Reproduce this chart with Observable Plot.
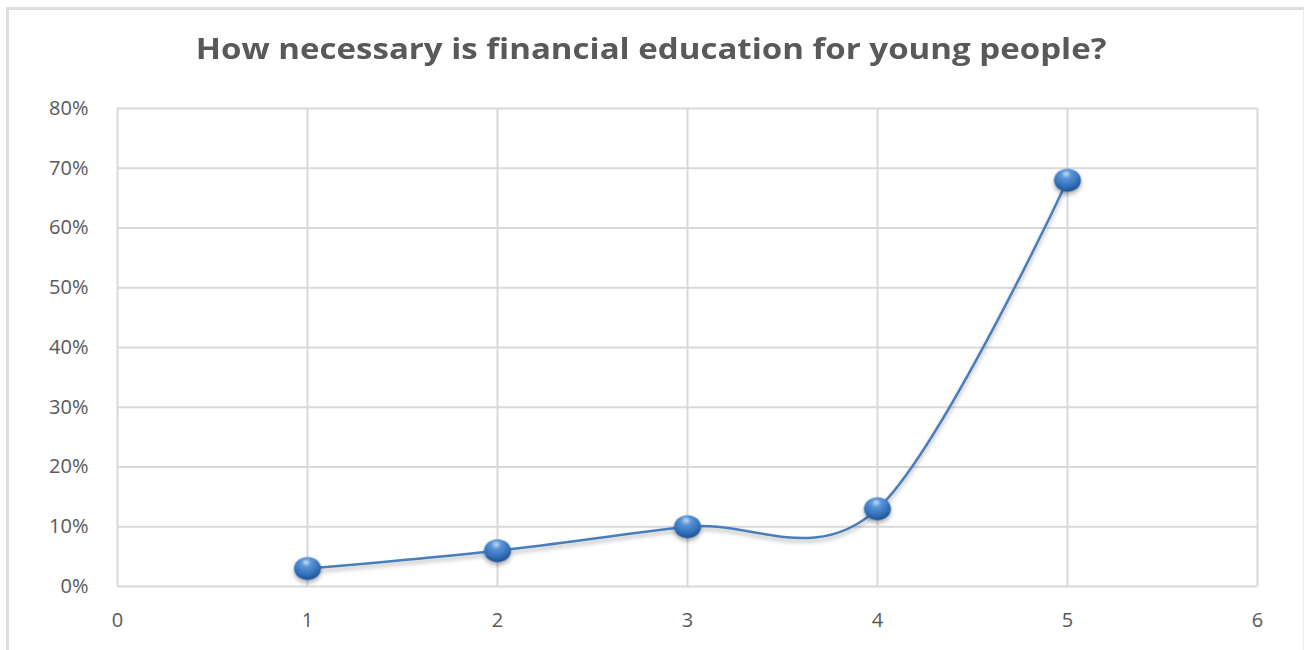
<!DOCTYPE html>
<html>
<head>
<meta charset="utf-8">
<script src="https://cdn.jsdelivr.net/npm/d3@7"></script>
<script src="https://cdn.jsdelivr.net/npm/@observablehq/plot@0.6"></script>
<style>
  html, body { margin: 0; padding: 0; background: #fff; }
  #page { position: relative; width: 1304px; height: 650px; overflow: hidden; background: #fff; }
  #frame {
    position: absolute; left: 6px; top: 7px; width: 1294px; height: 660px;
    border-top: 3px solid #dedede; border-left: 3px solid #dedede; border-right: 1px solid #ececec;
  }
  #title {
    position: absolute; left: 0; top: 29px; width: 1304px; text-align: center;
    font-family: "Open Sans", sans-serif; font-weight: 700; font-size: 28px;
    color: #595959; transform: scaleX(1.18); transform-origin: 657px 0;
  }
  #chart { position: absolute; left: 0; top: 90px; }
</style>
</head>
<body>
<div id="page">
  <div id="frame"></div>
  <div id="title">How necessary is financial education for young people?</div>
  <div id="chart"></div>
</div>
<script>
// Survey answers on a 1–5 scale and the share of respondents choosing each
const ratings = [1, 2, 3, 4, 5];
const shares = [0.03, 0.06, 0.10, 0.13, 0.68];
const xTicks = [0, 1, 2, 3, 4, 5, 6];
const yTicks = [0, 0.1, 0.2, 0.3, 0.4, 0.5, 0.6, 0.7, 0.8];

const data = ratings.map((r, i) => ({rating: r, share: shares[i]}));

// Slightly wide ellipse used as the marker shape
const ellipse = {
  draw(ctx, size) {
    const rx = 13.5, ry = 11.5, k = 0.5523;
    ctx.moveTo(rx, 0);
    ctx.bezierCurveTo(rx, ry * k, rx * k, ry, 0, ry);
    ctx.bezierCurveTo(-rx * k, ry, -rx, ry * k, -rx, 0);
    ctx.bezierCurveTo(-rx, -ry * k, -rx * k, -ry, 0, -ry);
    ctx.bezierCurveTo(rx * k, -ry, rx, -ry * k, rx, 0);
    ctx.closePath();
  }
};

const chart = Plot.plot({
  width: 1304,
  height: 560,
  marginTop: 18,
  marginBottom: 64,
  marginLeft: 117,
  marginRight: 47,
  style: {fontFamily: "'Open Sans', sans-serif", fontSize: "20px", color: "#595959", background: "transparent"},
  x: {domain: [0, 6], ticks: xTicks, tickFormat: d3.format("d"), tickSize: 0, tickPadding: 26, label: null},
  y: {domain: [0, 0.8], ticks: yTicks, tickFormat: d3.format(".0%"), tickSize: 0, tickPadding: 29, label: null},
  marks: [
    Plot.gridX(xTicks, {stroke: "#d9d9d9", strokeOpacity: 1, strokeWidth: 2}),
    Plot.gridY(yTicks, {stroke: "#d9d9d9", strokeOpacity: 1, strokeWidth: 2}),
    Plot.axisX({ticks: xTicks, tickFormat: d3.format("d"), tickSize: 0, tickPadding: 26, fill: "#595959"}),
    Plot.axisY({ticks: yTicks, tickFormat: d3.format(".0%"), tickSize: 0, tickPadding: 29, fill: "#595959", letterSpacing: -0.6}),
    Plot.line(data, {x: "rating", y: "share", curve: "cardinal", stroke: "#4a7ebb", strokeWidth: 2.5, className: "series-line"}),
    Plot.dot(data, {x: "rating", y: "share", symbol: ellipse, r: 12, fill: "url(#sphere)", stroke: "none", className: "series-dots"})
  ]
});

// Gradient and soft shadow for the sphere-like markers and the line
const ns = "http://www.w3.org/2000/svg";
const defs = document.createElementNS(ns, "defs");
defs.innerHTML = `
  <radialGradient id="sphere" cx="0.45" cy="0.3" r="0.75" fx="0.45" fy="0.22">
    <stop offset="0" stop-color="#c5dcf7"/>
    <stop offset="0.25" stop-color="#5b95d8"/>
    <stop offset="0.7" stop-color="#2f6db5"/>
    <stop offset="1" stop-color="#1d4a85"/>
  </radialGradient>
  <filter id="shadow" x="-30%" y="-30%" width="160%" height="180%">
    <feDropShadow dx="0" dy="3" stdDeviation="2" flood-color="#000" flood-opacity="0.3"/>
  </filter>`;
chart.insertBefore(defs, chart.firstChild);
chart.querySelectorAll(".series-line, .series-dots").forEach(g => g.setAttribute("filter", "url(#shadow)"));

document.getElementById("chart").appendChild(chart);
</script>
</body>
</html>
